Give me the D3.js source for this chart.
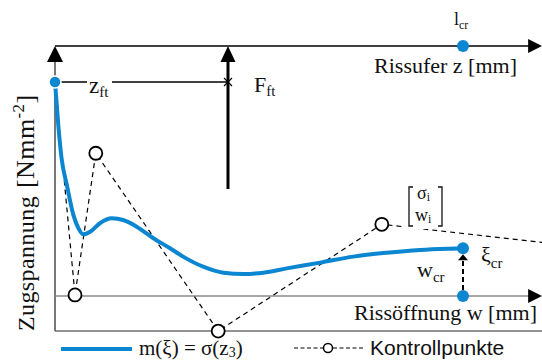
<!DOCTYPE html>
<html>
<head>
<meta charset="utf-8">
<script src="https://cdn.jsdelivr.net/npm/d3@7"></script>
<style>
  body { margin: 0; background: #fff; }
  svg { display: block; }
  .serif { font-family: "Liberation Serif", "Times New Roman", serif; fill: #111; }
  .sans { font-family: "Liberation Sans", Arial, sans-serif; fill: #111; }
</style>
</head>
<body>
<div id="chart"></div>
<script>
// chart size
const width = 542, height = 360;
const blue = "#0b86d1";

// softening curve m(xi) = sigma(w), normalised (w / w_cr, sigma / f_t)
const curveW = [0, 0.008, 0.016, 0.029, 0.045, 0.057, 0.069, 0.086, 0.110, 0.139, 0.167,
  0.200, 0.241, 0.282, 0.314, 0.363, 0.413, 0.462, 0.511, 0.568, 0.650, 0.731, 0.813, 0.895, 0.985, 1.0];
const curveS = [1.0, 0.80, 0.645, 0.519, 0.379, 0.318, 0.288, 0.300, 0.340, 0.363, 0.355,
  0.324, 0.270, 0.223, 0.184, 0.137, 0.109, 0.103, 0.109, 0.129, 0.156, 0.184, 0.202, 0.215, 0.222, 0.223];

// control points [sigma_i, w_i]
const ctrlW = [0, 0.049, 0.100, 0.400, 0.801, 1.22];
const ctrlS = [1.0, 0.005, 0.667, -0.164, 0.335, 0.245];
const ctrlOpen = [false, true, true, true, true, false];

// reference positions
const zAxisS = 1.168;      // top axis "Rissufer z"
const frameS = -0.164;     // lower frame
const xEnd = 1.194;        // right end of axes
const fFtW = 0.424;        // position of resulting force F_ft
const fFtBottom = 0.50;
const wCr = 1.0;

const x = d3.scaleLinear().domain([0, 1]).range([55, 463]);
const y = d3.scaleLinear().domain([0, 1]).range([296, 82]);

const svg = d3.select("#chart").append("svg")
  .attr("width", width).attr("height", height);

svg.append("defs").append("clipPath").attr("id", "clip")
  .append("rect").attr("x", 0).attr("y", 0).attr("width", width).attr("height", height);

// arrowhead helper (tip at px, py, pointing "up" or "right")
function arrowHead(px, py, dir, len, half, fill) {
  const p = dir === "up"
    ? [[px, py], [px - half, py + len], [px + half, py + len]]
    : [[px, py], [px - len, py - half], [px - len, py + half]];
  svg.append("path").attr("d", d3.line()(p) + "Z").attr("fill", fill || "#000");
}

// frame: lower line and left axis
svg.append("line")
  .attr("x1", x(0)).attr("x2", x(xEnd))
  .attr("y1", y(frameS)).attr("y2", y(frameS))
  .attr("stroke", "#6e6e6e").attr("stroke-width", 1.5);
svg.append("line")
  .attr("x1", x(0)).attr("x2", x(0))
  .attr("y1", y(frameS)).attr("y2", y(zAxisS) + 12)
  .attr("stroke", "#555").attr("stroke-width", 1.6);
arrowHead(x(0), y(zAxisS), "up", 16, 8);

// top axis z
svg.append("line")
  .attr("x1", x(0)).attr("x2", x(xEnd) - 10)
  .attr("y1", y(zAxisS)).attr("y2", y(zAxisS))
  .attr("stroke", "#000").attr("stroke-width", 1.5);
arrowHead(x(xEnd), y(zAxisS), "right", 14, 7);

// w axis
svg.append("line")
  .attr("x1", x(0)).attr("x2", x(xEnd) - 10)
  .attr("y1", y(0)).attr("y2", y(0))
  .attr("stroke", "#8a8a8a").attr("stroke-width", 1.5);
arrowHead(x(xEnd), y(0), "right", 14, 7);

// F_ft arrow
svg.append("line")
  .attr("x1", x(fFtW)).attr("x2", x(fFtW))
  .attr("y1", y(fFtBottom)).attr("y2", y(zAxisS) + 12)
  .attr("stroke", "#000").attr("stroke-width", 3);
arrowHead(x(fFtW), y(zAxisS), "up", 16, 7.5);

// z_ft distance line with cross
svg.append("line")
  .attr("x1", x(0)).attr("x2", x(fFtW))
  .attr("y1", y(1)).attr("y2", y(1))
  .attr("stroke", "#000").attr("stroke-width", 1.3);
svg.append("path")
  .attr("d", `M${x(fFtW) - 4},${y(1) - 4}L${x(fFtW) + 4},${y(1) + 4}M${x(fFtW) - 4},${y(1) + 4}L${x(fFtW) + 4},${y(1) - 4}`)
  .attr("stroke", "#000").attr("stroke-width", 1.1);

// z_ft label with white background
svg.append("rect").attr("x", 87).attr("y", 76).attr("width", 25).attr("height", 22).attr("fill", "#fff");
const zft = svg.append("text").attr("class", "serif").attr("x", 89).attr("y", 93).attr("font-size", 23);
zft.append("tspan").text("z");
zft.append("tspan").attr("font-size", 15).attr("dy", 4).text("ft");

const fft = svg.append("text").attr("class", "serif").attr("x", 254).attr("y", 92).attr("font-size", 22);
fft.append("tspan").text("F");
fft.append("tspan").attr("font-size", 15).attr("dy", 4).text("ft");

// control polygon
const ctrl = ctrlW.map((w, i) => ({ w, s: ctrlS[i], open: ctrlOpen[i] }));
svg.append("path")
  .datum(ctrl)
  .attr("clip-path", "url(#clip)")
  .attr("d", d3.line().x(d => x(d.w)).y(d => y(d.s)))
  .attr("fill", "none").attr("stroke", "#000")
  .attr("stroke-width", 1.2).attr("stroke-dasharray", "5,4");

// label for [sigma_i; w_i] with white background
svg.append("rect").attr("x", 405).attr("y", 185).attr("width", 40).attr("height", 44).attr("fill", "#fff");
svg.append("path")
  .attr("d", "M413,187H409V226H413M438,187H442V226H438")
  .attr("fill", "none").attr("stroke", "#111").attr("stroke-width", 1.3);
const sig = svg.append("text").attr("class", "serif").attr("x", 417).attr("y", 199).attr("font-size", 18);
sig.append("tspan").text("σ");
sig.append("tspan").attr("font-size", 12).attr("dy", 2).text("i");
const wi = svg.append("text").attr("class", "serif").attr("x", 415).attr("y", 221).attr("font-size", 18);
wi.append("tspan").text("w");
wi.append("tspan").attr("font-size", 12).attr("dy", 2).text("i");

// softening curve
const pts = curveW.map((w, i) => ({ w, s: curveS[i] }));
svg.append("path")
  .datum(pts)
  .attr("d", d3.line().x(d => x(d.w)).y(d => y(d.s)).curve(d3.curveMonotoneX))
  .attr("fill", "none").attr("stroke", blue).attr("stroke-width", 4);

// open control point circles
svg.selectAll("circle.ctrl")
  .data(ctrl.filter(d => d.open))
  .join("circle")
  .attr("class", "ctrl")
  .attr("cx", d => x(d.w)).attr("cy", d => y(d.s)).attr("r", 6.5)
  .attr("fill", "#fff").attr("stroke", "#000").attr("stroke-width", 1.8);

// w_cr dashed arrow
const sEnd = curveS[curveS.length - 1];
svg.append("line")
  .attr("x1", x(wCr)).attr("x2", x(wCr))
  .attr("y1", y(0) - 6).attr("y2", y(sEnd) + 12)
  .attr("stroke", "#000").attr("stroke-width", 2).attr("stroke-dasharray", "5,3");
arrowHead(x(wCr), y(sEnd) + 6, "up", 6, 5);

// blue points
const bluePts = [
  { w: 0, s: 1, ring: true },
  { w: wCr, s: sEnd, ring: false },
  { w: wCr, s: 0, ring: false },
  { w: wCr, s: zAxisS, ring: false }
];
svg.selectAll("circle.blue")
  .data(bluePts)
  .join("circle")
  .attr("class", "blue")
  .attr("cx", d => x(d.w)).attr("cy", d => y(d.s)).attr("r", 6)
  .attr("fill", blue)
  .attr("stroke", d => d.ring ? "#fff" : "none").attr("stroke-width", 1.5);

// texts
const lcr = svg.append("text").attr("class", "serif").attr("x", 454).attr("y", 25).attr("font-size", 18);
lcr.append("tspan").text("l");
lcr.append("tspan").attr("font-size", 12).attr("dy", 4).text("cr");

svg.append("text").attr("class", "serif")
  .attr("x", 517).attr("y", 73).attr("font-size", 22).attr("text-anchor", "end")
  .text("Rissufer z [mm]");
svg.append("text").attr("class", "serif")
  .attr("x", 537).attr("y", 320).attr("font-size", 22).attr("text-anchor", "end")
  .text("Rissöffnung w [mm]");

const wcr = svg.append("text").attr("class", "serif").attr("x", 417).attr("y", 277).attr("font-size", 22);
wcr.append("tspan").text("w");
wcr.append("tspan").attr("font-size", 15).attr("dy", 5).text("cr");

const xicr = svg.append("text").attr("class", "serif").attr("x", 481).attr("y", 262).attr("font-size", 22);
xicr.append("tspan").text("ξ");
xicr.append("tspan").attr("font-size", 15).attr("dy", 6).text("cr");

// rotated y label
const yl = svg.append("text").attr("class", "serif")
  .attr("transform", "translate(34,331) rotate(-90)")
  .attr("font-size", 24).attr("letter-spacing", 0.4);
yl.append("tspan").text("Zugspannung");
yl.append("tspan").attr("dx", 8).attr("font-size", 26).text("[Nmm");
yl.append("tspan").attr("font-size", 17).attr("dy", -10).text("-2");
yl.append("tspan").attr("font-size", 26).attr("dy", 10).text("]");

// legend
svg.append("line")
  .attr("x1", 61).attr("x2", 132).attr("y1", 349).attr("y2", 349)
  .attr("stroke", blue).attr("stroke-width", 4);
const leg = svg.append("text").attr("class", "serif").attr("x", 139).attr("y", 355).attr("font-size", 21);
leg.append("tspan").text("m(ξ) = σ(z");
leg.append("tspan").attr("font-size", 14).attr("dy", 2).text("3");
leg.append("tspan").attr("dy", -2).text(")");

svg.append("line")
  .attr("x1", 294).attr("x2", 363).attr("y1", 348).attr("y2", 348)
  .attr("stroke", "#000").attr("stroke-width", 1.2).attr("stroke-dasharray", "4,2.5");
svg.append("circle").attr("cx", 328).attr("cy", 348).attr("r", 4.5)
  .attr("fill", "#fff").attr("stroke", "#000").attr("stroke-width", 1.5);
svg.append("text").attr("class", "sans")
  .attr("x", 370).attr("y", 355).attr("font-size", 21)
  .text("Kontrollpunkte");
</script>
</body>
</html>
